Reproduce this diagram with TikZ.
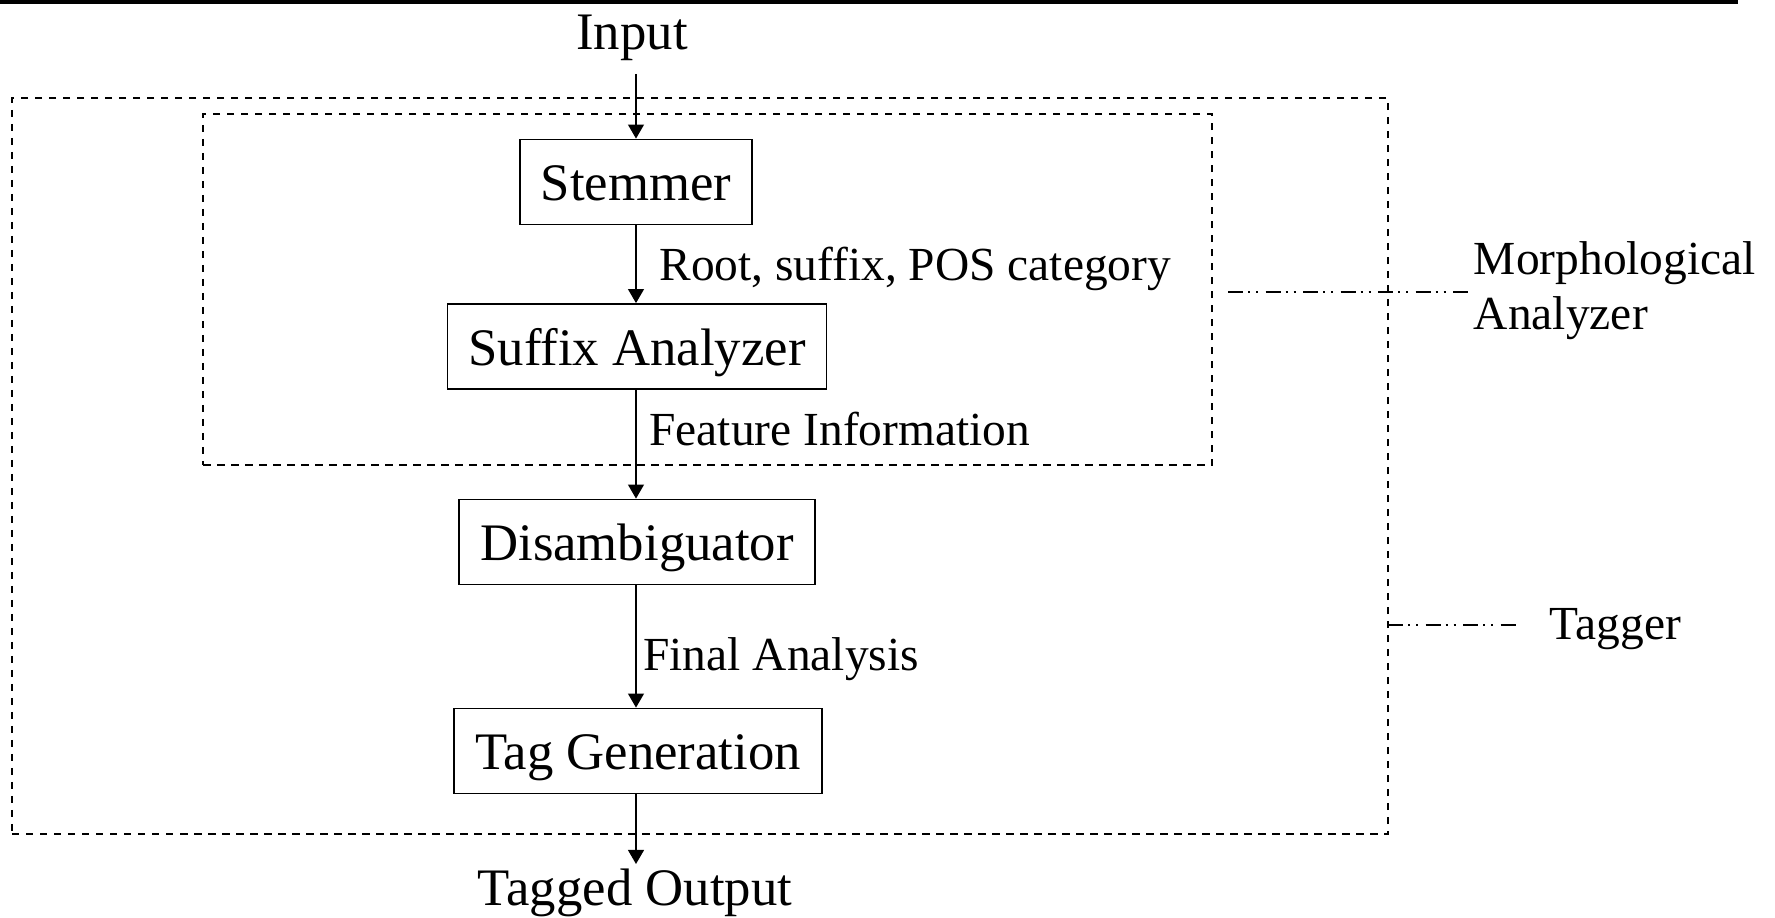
\documentclass[tikz,border=0pt]{standalone}
\usepackage{fontspec}
\setmainfont{Liberation Serif}
\usepackage{tikz}
\usetikzlibrary{arrows.meta}

\begin{document}
\begin{tikzpicture}[>={Triangle[length=4pt,width=4.5pt]},line width=0.5pt,
  stage/.style={draw,minimum height=0.85cm,inner xsep=0.21cm,inner ysep=2pt,text height=1.08em,text depth=0pt,font=\fontsize{15}{18}\selectfont},
  lbl/.style={font=\fontsize{13.5}{15.6}\selectfont,inner sep=1pt},
  region/.style={draw,inner sep=0pt,line width=0.6pt,dash pattern=on 0.075cm off 0.065cm},
  dashdot/.style={line width=0.5pt,dash pattern=on 0.15cm off 0.05cm on 0.02cm off 0.06cm on 0.02cm off 0.075cm}]
\useasboundingbox (0,0) rectangle (17.75,9.17);
\draw[line width=1.1pt] (0,9.15) -- (17.38,9.15);
\node[region,minimum width=13.76cm,minimum height=7.36cm] (tagger box) at (7.00,4.51) {};
\node[region,minimum width=10.09cm,minimum height=3.51cm] (morph box) at (7.075,6.275) {};
\node[anchor=base,font=\fontsize{15}{18}\selectfont] (input) at (6.32,8.67) {Input};
\node[stage] (stemmer) at (6.36,7.35) {Stemmer};
\node[stage] (suffix) at (6.37,5.705) {Suffix Analyzer};
\node[stage] (disamb) at (6.37,3.75) {Disambiguator};
\node[stage] (taggen) at (6.38,1.66) {Tag Generation};
\node[anchor=base,inner sep=1pt,font=\fontsize{15}{18}\selectfont] (output) at (6.35,0.12) {Tagged Output};
\draw[->] (stemmer.north |- input.south) -- (stemmer);
\draw[->] (stemmer) -- node[lbl,right=0.19cm,pos=0.56]{Root, suffix, POS category} (stemmer |- suffix.north);
\draw[->] (stemmer |- suffix.south) -- node[lbl,right=0.09cm,pos=0.36]{Feature Information} (stemmer |- disamb.north);
\draw[->] (stemmer |- disamb.south) -- node[lbl,right=0.03cm,pos=0.6]{Final Analysis} (stemmer |- taggen.north);
\draw[->] (stemmer |- taggen.south) -- (stemmer |- output.north);
\node[lbl,anchor=west,align=left] (morph) at (14.695,6.26) {Morphological\\Analyzer};
\node[lbl,anchor=west] (tagger) at (15.455,2.883) {Tagger};
\coordinate (morph from) at (12.28,6.25);
\coordinate (tagger from) at (13.88,2.917);
\draw[dashdot] (morph from) -- (morph from -| morph.west);
\draw[dashdot,shorten >=0.3cm] (tagger from) -- (tagger from -| tagger.west);
\end{tikzpicture}
\end{document}
